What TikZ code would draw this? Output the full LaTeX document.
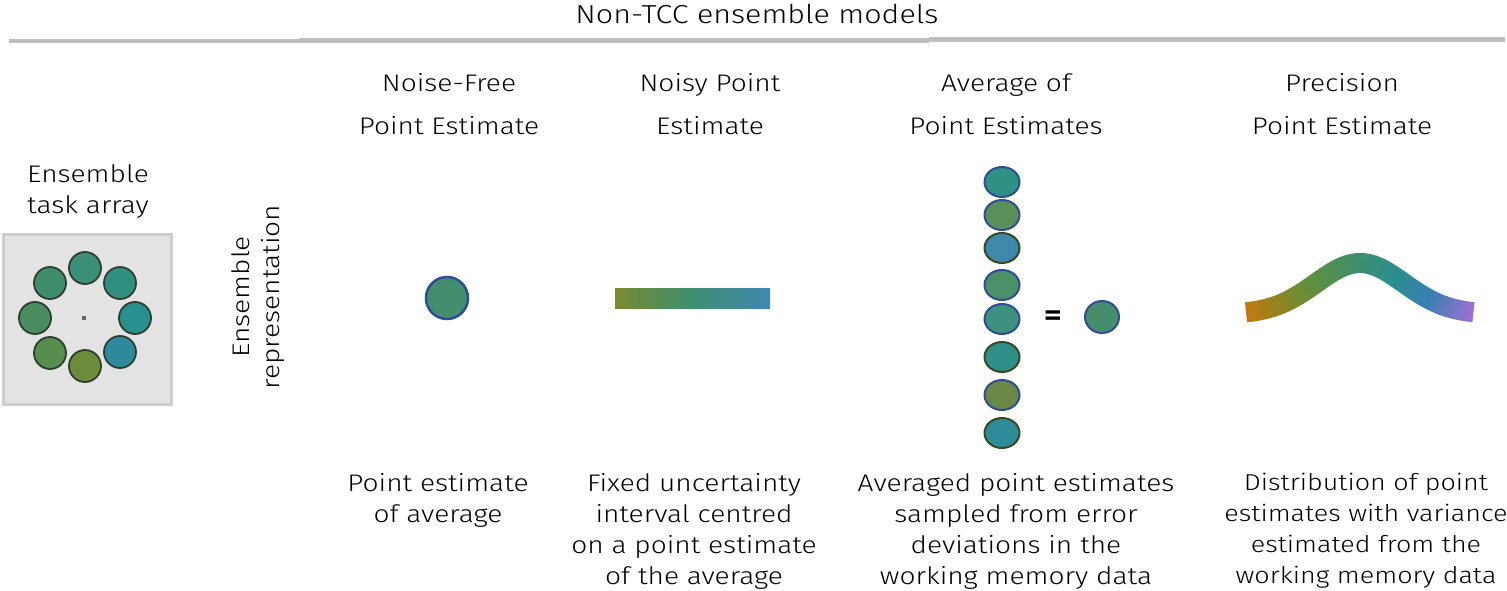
\documentclass[tikz,border=0pt]{standalone}
\usepackage{fontspec}
\setmainfont{Fira Sans Light}[FakeStretch=1.17]
\usetikzlibrary{shapes.geometric}
\definecolor{rulegray}{HTML}{BDBDBD}
\definecolor{boxfill}{HTML}{E3E3E3}
\definecolor{boxline}{HTML}{CDCDCD}
\definecolor{ringdark}{HTML}{2F3F2F}
\definecolor{ptblue}{HTML}{2E4C98}
\definecolor{ptgreen}{HTML}{354A1E}
\definecolor{cA}{HTML}{3A9177}
\definecolor{cB}{HTML}{3E8E6C}
\definecolor{cC}{HTML}{2F9080}
\definecolor{cD}{HTML}{4A8D5E}
\definecolor{cE}{HTML}{2A8F8F}
\definecolor{cF}{HTML}{568E4E}
\definecolor{cG}{HTML}{6B8C3A}
\definecolor{cH}{HTML}{2C8A9C}
\definecolor{eA}{HTML}{2F9184}
\definecolor{eB}{HTML}{5A9058}
\definecolor{eC}{HTML}{3F89AC}
\definecolor{eD}{HTML}{4C9068}
\definecolor{eE}{HTML}{3E917E}
\definecolor{eF}{HTML}{2E9088}
\definecolor{eG}{HTML}{6A8845}
\definecolor{eH}{HTML}{2E8C9A}
\definecolor{single}{HTML}{448E6E}
\definecolor{barL}{HTML}{7A8A30}
\definecolor{barM}{HTML}{3E8E70}
\definecolor{barR}{HTML}{4088B0}
\definecolor{gs0}{HTML}{C57A10}
\definecolor{gs1}{HTML}{8E8520}
\definecolor{gs2}{HTML}{5E9040}
\definecolor{gs3}{HTML}{3E8E70}
\definecolor{gs4}{HTML}{2A8E90}
\definecolor{gs5}{HTML}{3A80B4}
\definecolor{gs6}{HTML}{A070D2}
\pgfmathdeclarefunction{bell}{1}{\pgfmathparse{314-51*exp(-((#1-1360)/62)*((#1-1360)/62))}}
\newcommand\bellseg[5]{%
  \foreach \i in {1,...,#5}{%
    \pgfmathsetmacro\xa{#1+(\i-1)*(#2-#1)/#5}%
    \pgfmathsetmacro\xb{#1+\i*(#2-#1)/#5+0.5}%
    \pgfmathsetmacro\pp{100*(\i-0.5)/#5}%
    \draw[bellstroke, draw=#4!\pp!#3] plot[domain=\xa:\xb, samples=3] (\x,{bell(\x)});
  }}
\begin{document}
\begin{tikzpicture}[x=1pt,y=-1pt,
  txt/.style={font=\fontsize{24}{31}\selectfont, align=center, inner sep=0pt, text=black},
  head/.style={font=\fontsize{24}{43}\selectfont, align=center, inner sep=0pt, text=black},
  ring/.style={circle, minimum size=32pt, inner sep=0pt, draw=ringdark, line width=1.8pt},
  pt/.style={ellipse, minimum width=35pt, minimum height=30pt, inner sep=0pt, line width=2pt},
  bellstroke/.style={line width=20pt, line cap=butt}]
\useasboundingbox (0,0) rectangle (1507,591);
\fill[white] (0,0) rectangle (1507,591);
% title and rule
\node[font=\fontsize{26}{31}\selectfont, inner sep=0pt] (title) at (757,14) {Non-TCC ensemble models};
\coordinate (r0) at (9,41); \coordinate (r1) at (299,41);
\coordinate (r2) at (299,40.3); \coordinate (r3) at (929,40.3);
\coordinate (r4) at (929,39.3); \coordinate (r5) at (1505,39.3);
\draw[rulegray, line width=4.5pt] (r0) -- (r1);
\draw[rulegray, line width=4.5pt] (r2) -- (r3);
\draw[rulegray, line width=4.5pt] (r4) -- (r5);
% task array
\node[txt] (tasklbl) at (88,192) {Ensemble\\task array};
\node[draw=boxline, fill=boxfill, line width=3pt, minimum width=168pt, minimum height=170pt, inner sep=0pt] (box) at (87,319.5) {};
\node[fill=gray!80!black, minimum size=4pt, inner sep=0pt] (fix) at (84,318) {};
\node[ring, fill=cA] (a1) at (85,268) {};
\node[ring, fill=cB] (a2) at (50,283) {};
\node[ring, fill=cC] (a3) at (120,283) {};
\node[ring, fill=cD] (a4) at (35,318) {};
\node[ring, fill=cE] (a5) at (135,318) {};
\node[ring, fill=cF] (a6) at (50,353) {};
\node[ring, fill=cG] (a7) at (85,366) {};
\node[ring, fill=cH] (a8) at (120,352) {};
% rotated label
\node[font=\fontsize{24}{30}\selectfont, align=center, inner sep=0pt, rotate=90] (rep) at (258,297) {Ensemble\\representation};
% headers
\node[head] (h1) at (449,104) {Noise-Free\\Point Estimate};
\node[head] (h2) at (710,104) {Noisy Point\\Estimate};
\node[head] (h3) at (1006,104) {Average of\\Point Estimates};
\node[head] (h4) at (1342,104) {Precision\\Point Estimate};
% column 1
\node[circle, minimum size=42pt, inner sep=0pt, fill=single, draw=ptblue, line width=2.5pt] (p1) at (447,298) {};
% column 2
\shade[left color=barL, right color=barR, middle color=barM] (615,288) rectangle (770,308);
\node[minimum width=155pt, minimum height=20pt, inner sep=0pt] (bar) at (692.5,298) {};
% column 3
\node[pt, fill=eA, draw=ptblue] (e1) at (1002,182) {};
\node[pt, fill=eB, draw=ptblue] (e2) at (1002,215) {};
\node[pt, fill=eC, draw=ptgreen] (e3) at (1002,248) {};
\node[pt, fill=eD, draw=ptblue] (e4) at (1002,285) {};
\node[pt, fill=eE, draw=ptblue] (e5) at (1002,319) {};
\node[pt, fill=eF, draw=ptgreen] (e6) at (1002,357) {};
\node[pt, fill=eG, draw=ptblue] (e7) at (1002,395) {};
\node[pt, fill=eH, draw=ptgreen] (e8) at (1002,433) {};
\node[font=\fontsize{30}{30}\selectfont\bfseries, inner sep=0pt] (eq) at (1053,318) {=};
\node[ellipse, minimum width=34pt, minimum height=32pt, inner sep=0pt, fill=single, draw=ptblue, line width=2pt] (avg) at (1102,317) {};
% column 4: gradient bell curve
\bellseg{1246}{1280}{gs0}{gs1}{18}
\bellseg{1280}{1313}{gs1}{gs2}{18}
\bellseg{1313}{1360}{gs2}{gs3}{24}
\bellseg{1360}{1397}{gs3}{gs4}{20}
\bellseg{1397}{1430}{gs4}{gs5}{18}
\bellseg{1430}{1473}{gs5}{gs6}{22}
% bottom descriptions
\node[txt] (d1) at (438,500) {Point estimate\\of average};
\node[txt] (d2) at (694,531) {Fixed uncertainty\\interval centred\\on a point estimate\\of the average};
\node[txt] (d3) at (1016,531) {Averaged point estimates\\sampled from error\\deviations in the\\working memory data};
\node[txt, font=\fontsize{23}{31}\selectfont] (d4) at (1366,531) {Distribution of point\\estimates with variance\\estimated from the\\working memory data};
\end{tikzpicture}
\end{document}
